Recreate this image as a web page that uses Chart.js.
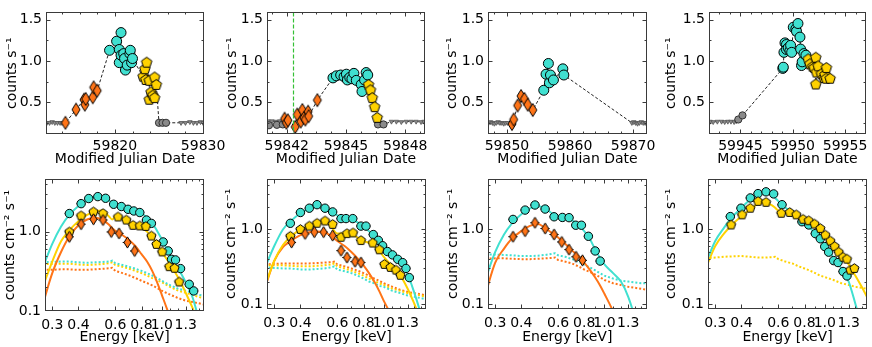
<!DOCTYPE html>
<html>
<head>
<meta charset="utf-8">
<script src="https://cdn.jsdelivr.net/npm/chart.js@4.4.1/dist/chart.umd.min.js"></script>
<style>
  html, body { margin: 0; padding: 0; background: #fff; }
  #fig { position: relative; width: 872px; height: 347px; overflow: hidden; }
  #fig canvas { position: absolute; left: 0; top: 0; }
</style>
</head>
<body>
<div id="fig">
  <canvas id="lc1" width="872" height="347"></canvas>
  <canvas id="lc2" width="872" height="347"></canvas>
  <canvas id="lc3" width="872" height="347"></canvas>
  <canvas id="lc4" width="872" height="347"></canvas>
  <canvas id="sp1" width="872" height="347"></canvas>
  <canvas id="sp2" width="872" height="347"></canvas>
  <canvas id="sp3" width="872" height="347"></canvas>
  <canvas id="sp4" width="872" height="347"></canvas>
</div>
<script>
// light curves: MJD vs count rate
const lcYRange = [0.114, 1.59];
const lcYTicks = [0.5, 1.0, 1.5];

const lc1Range = [59812.2, 59830.1];
const lc1Ticks = [59820, 59830];
const lc1GrayTriX = [59812.3, 59812.6, 59812.9, 59813.2, 59813.5, 59813.8, 59814.0, 59827.5, 59828.0, 59828.5, 59828.9, 59829.3, 59829.7, 59830.0];
const lc1GrayTriY = [0.25, 0.25, 0.26, 0.25, 0.25, 0.25, 0.25, 0.25, 0.25, 0.26, 0.25, 0.25, 0.26, 0.25];
const lc1GrayDotX = [59825.0, 59825.4, 59825.8];
const lc1GrayDotY = [0.25, 0.25, 0.25];
const lc1OrangeX = [59814.4, 59815.6, 59816.5, 59816.6, 59816.7, 59817.5, 59817.6, 59818.0];
const lc1OrangeY = [0.25, 0.41, 0.53, 0.47, 0.54, 0.56, 0.68, 0.64];
const lc1CyanX = [59819.4, 59820.2, 59820.5, 59820.5, 59820.7, 59820.7, 59821.0, 59821.1, 59821.2, 59821.4, 59821.7, 59821.75, 59821.9, 59822.0];
const lc1CyanY = [1.13, 1.24, 1.14, 0.98, 1.345, 1.07, 1.09, 1.03, 0.89, 0.95, 1.09, 1.13, 0.98, 1.03];
const lc1YellowX = [59823.2, 59823.4, 59823.5, 59823.6, 59823.9, 59823.9, 59824.1, 59824.3, 59824.5, 59824.5, 59824.7];
const lc1YellowY = [0.81, 0.90, 0.77, 0.98, 0.76, 0.53, 0.62, 0.58, 0.80, 0.55, 0.71];

const lc2Range = [59841.0, 59849.0];
const lc2Ticks = [59842, 59845, 59848];
const lc2Marker = [59842.3];
const lc2GrayTriX = [59841.05, 59841.25, 59841.45, 59841.65, 59841.85, 59847.3, 59847.55, 59847.8, 59848.05, 59848.3, 59848.55, 59848.8, 59848.95];
const lc2GrayTriY = [0.27, 0.27, 0.265, 0.27, 0.27, 0.265, 0.265, 0.26, 0.265, 0.265, 0.265, 0.26, 0.265];
const lc2GrayDotX = [59841.1, 59841.5, 59841.8, 59846.62, 59846.9];
const lc2GrayDotY = [0.22, 0.225, 0.23, 0.23, 0.23];
const lc2OrangeX = [59841.89, 59841.98, 59842.06, 59842.43, 59842.53, 59842.71, 59842.79, 59842.87, 59842.94, 59843.08, 59843.11, 59843.55];
const lc2OrangeY = [0.30, 0.25, 0.28, 0.20, 0.35, 0.265, 0.405, 0.31, 0.29, 0.385, 0.33, 0.525];
const lc2CyanX = [59844.34, 59844.51, 59844.73, 59844.90, 59845.02, 59845.07, 59845.19, 59845.30, 59845.40, 59845.52, 59845.77, 59845.81, 59845.94, 59846.02, 59846.10];
const lc2CyanY = [0.795, 0.82, 0.83, 0.81, 0.84, 0.77, 0.80, 0.785, 0.85, 0.765, 0.715, 0.63, 0.77, 0.86, 0.83];
const lc2YellowX = [59846.14, 59846.24, 59846.33, 59846.45, 59846.58];
const lc2YellowY = [0.71, 0.645, 0.55, 0.44, 0.31];

const lc3Range = [59847.0, 59872.2];
const lc3Ticks = [59850, 59860, 59870];
const lc3GrayTriX = [59847.1, 59847.4, 59847.7, 59848.0, 59848.3, 59848.6, 59848.9, 59849.2, 59849.5, 59849.8, 59850.1, 59869.8, 59870.1, 59870.4, 59870.7, 59871.0, 59871.3, 59871.6, 59871.9, 59872.1];
const lc3GrayTriY = [0.25, 0.26, 0.25, 0.24, 0.25, 0.26, 0.25, 0.25, 0.24, 0.25, 0.25, 0.25, 0.26, 0.25, 0.24, 0.25, 0.26, 0.25, 0.25, 0.25];
const lc3OrangeX = [59850.8, 59851.07, 59851.7, 59852.24, 59852.77, 59853.3, 59854.1];
const lc3OrangeY = [0.235, 0.29, 0.46, 0.575, 0.54, 0.47, 0.405];
const lc3CyanX = [59855.84, 59856.2, 59856.57, 59856.73, 59856.9, 59857.37, 59858.86, 59859.02];
const lc3CyanY = [0.645, 0.84, 0.97, 0.735, 0.83, 0.77, 0.905, 0.83];

const lc4Range = [59942.0, 59957.0];
const lc4Ticks = [59945, 59950, 59955];
const lc4GrayTriX = [59942.1, 59942.4, 59942.8, 59943.2, 59943.5, 59943.8, 59944.1, 59944.4, 59944.6];
const lc4GrayTriY = [0.265, 0.26, 0.265, 0.265, 0.26, 0.265, 0.265, 0.26, 0.27];
const lc4GrayDotX = [59944.8, 59945.2];
const lc4GrayDotY = [0.29, 0.34];
const lc4CyanX = [59949.05, 59949.1, 59949.16, 59949.26, 59949.4, 59949.4, 59949.57, 59949.73, 59949.8, 59949.9, 59950.05, 59950.3, 59950.36, 59950.5, 59950.69, 59950.75, 59950.84, 59950.9, 59951.07, 59951.26];
const lc4CyanY = [0.91, 0.925, 1.105, 1.22, 1.20, 1.14, 1.16, 1.125, 1.19, 1.105, 1.41, 1.39, 1.36, 1.455, 1.29, 1.145, 0.945, 0.99, 1.09, 1.07];
const lc4YellowX = [59951.48, 59951.64, 59951.9, 59952.05, 59952.2, 59952.2, 59952.27, 59952.43, 59952.74, 59952.97, 59953.07, 59953.2, 59953.22, 59953.57];
const lc4YellowY = [1.02, 0.96, 0.93, 0.915, 1.04, 0.715, 0.86, 0.935, 0.84, 0.795, 0.83, 0.785, 0.915, 0.785];

// spectra: energy (keV) vs counts cm^-2 s^-1
const specXRange = [0.277, 1.59];
const specXTicks = [0.3, 0.4, 0.6, 0.8, 1.0, 1.3];
const specYTicks = [0.1, 1.0];
const sp1YRange = [0.1, 4.6];
const spYRange = [0.0857, 4.83];
const modelE = [0.27, 0.3, 0.33, 0.36, 0.4, 0.44, 0.48, 0.52, 0.56, 0.58, 0.6, 0.65, 0.7, 0.75, 0.8, 0.85, 0.9, 0.95, 1.0, 1.1, 1.2, 1.3, 1.4, 1.5, 1.6];

const sp1CyanE = [0.362, 0.412, 0.448, 0.495, 0.539, 0.589, 0.641, 0.690, 0.735, 0.785, 0.845, 0.892, 1.015, 1.073, 1.113, 1.163, 1.229, 1.352, 1.42];
const sp1CyanY = [1.69, 2.25, 2.61, 2.76, 2.63, 2.21, 2.07, 1.91, 1.82, 1.74, 1.40, 1.27, 0.741, 0.571, 0.448, 0.44, 0.342, 0.217, 0.179];
const sp1YellowE = [0.362, 0.412, 0.472, 0.524, 0.618, 0.677, 0.729, 0.785, 0.839, 0.892, 0.943, 1.004, 1.085, 1.15, 1.21];
const sp1YellowY = [0.99, 1.58, 1.77, 1.69, 1.53, 1.40, 1.20, 1.18, 1.16, 0.88, 0.69, 0.555, 0.362, 0.345, 0.232];
const sp1OrangeE = [0.362, 0.412, 0.472, 0.524, 0.574, 0.625, 0.685, 0.742];
const sp1OrangeY = [0.86, 1.24, 1.43, 1.40, 0.99, 0.95, 0.73, 0.57];
const sp1CyanModel = [0.35, 0.7, 1.15, 1.6, 2.1, 2.5, 2.72, 2.7, 2.45, 2.3, 2.2, 2.05, 1.9, 1.8, 1.7, 1.5, 1.28, 1.02, 0.8, 0.5, 0.34, 0.23, 0.15, 0.08, 0.045];
const sp1YellowModel = [0.2, 0.42, 0.75, 1.02, 1.35, 1.62, 1.8, 1.85, 1.55, 1.42, 1.55, 1.45, 1.32, 1.22, 1.15, 1.0, 0.85, 0.7, 0.56, 0.38, 0.26, 0.17, 0.11, 0.07, 0.045];
const sp1OrangeModel = [0.12, 0.3, 0.55, 0.85, 1.2, 1.42, 1.5, 1.42, 1.22, 1.1, 1.02, 0.9, 0.78, 0.65, 0.52, 0.42, 0.32, 0.23, 0.16, 0.08, 0.04, 0.02, 0.01, 0.006, 0.004];
const sp1CyanBkg = [0.415, 0.415, 0.42, 0.42, 0.41, 0.405, 0.41, 0.415, 0.42, 0.43, 0.40, 0.38, 0.36, 0.34, 0.32, 0.30, 0.28, 0.26, 0.24, 0.21, 0.19, 0.18, 0.17, 0.16, 0.155];
const sp1YellowBkg = [0.39, 0.39, 0.395, 0.395, 0.385, 0.38, 0.385, 0.39, 0.40, 0.41, 0.38, 0.36, 0.34, 0.32, 0.30, 0.28, 0.26, 0.245, 0.23, 0.20, 0.18, 0.17, 0.16, 0.15, 0.145];
const sp1OrangeBkg = [0.33, 0.33, 0.335, 0.335, 0.33, 0.33, 0.335, 0.34, 0.345, 0.35, 0.32, 0.30, 0.28, 0.26, 0.24, 0.225, 0.21, 0.195, 0.18, 0.16, 0.145, 0.135, 0.13, 0.125, 0.12];

const sp2CyanE = [0.358, 0.400, 0.441, 0.480, 0.524, 0.570, 0.625, 0.660, 0.711, 0.778, 0.822, 0.891, 0.942, 0.987, 1.04, 1.10, 1.165, 1.23, 1.276, 1.324];
const sp2CyanY = [1.21, 1.69, 1.93, 2.15, 1.93, 1.72, 1.40, 1.40, 1.40, 1.11, 1.11, 0.855, 0.715, 0.605, 0.506, 0.456, 0.398, 0.359, 0.30, 0.226];
const sp2YellowE = [0.358, 0.400, 0.441, 0.480, 0.524, 0.570, 0.625, 0.667, 0.713, 0.778, 0.885, 0.952, 1.006, 1.075, 1.143, 1.20];
const sp2YellowY = [0.81, 1.0, 1.11, 1.21, 1.30, 1.17, 0.786, 0.88, 0.90, 0.71, 0.658, 0.534, 0.34, 0.31, 0.285, 0.243];
const sp2OrangeE = [0.363, 0.421, 0.466, 0.516, 0.570, 0.625, 0.667, 0.729, 0.778];
const sp2OrangeY = [0.67, 0.873, 0.92, 0.92, 0.83, 0.52, 0.42, 0.37, 0.36];
const sp2CyanModel = [0.3, 0.6, 1.0, 1.3, 1.65, 1.9, 2.05, 1.95, 1.75, 1.65, 1.55, 1.42, 1.35, 1.25, 1.1, 0.95, 0.82, 0.7, 0.6, 0.45, 0.36, 0.25, 0.14, 0.075, 0.04];
const sp2YellowModel = [0.17, 0.38, 0.62, 0.8, 1.0, 1.12, 1.22, 1.25, 1.12, 0.95, 0.88, 0.88, 0.88, 0.78, 0.7, 0.66, 0.6, 0.52, 0.43, 0.32, 0.24, 0.16, 0.1, 0.062, 0.035];
const sp2OrangeModel = [0.16, 0.38, 0.58, 0.7, 0.84, 0.92, 0.94, 0.92, 0.82, 0.76, 0.7, 0.6, 0.5, 0.41, 0.33, 0.26, 0.2, 0.15, 0.11, 0.065, 0.035, 0.02, 0.012, 0.008, 0.005];
const sp2CyanBkg = [0.31, 0.305, 0.30, 0.30, 0.29, 0.29, 0.295, 0.30, 0.31, 0.32, 0.29, 0.275, 0.26, 0.24, 0.22, 0.20, 0.19, 0.175, 0.17, 0.15, 0.14, 0.13, 0.125, 0.12, 0.115];
const sp2YellowBkg = [0.33, 0.33, 0.33, 0.325, 0.32, 0.32, 0.325, 0.33, 0.34, 0.35, 0.32, 0.30, 0.28, 0.26, 0.24, 0.22, 0.205, 0.19, 0.18, 0.16, 0.15, 0.14, 0.135, 0.13, 0.125];
const sp2OrangeBkg = [0.34, 0.345, 0.35, 0.35, 0.35, 0.35, 0.355, 0.36, 0.365, 0.37, 0.34, 0.32, 0.30, 0.28, 0.26, 0.24, 0.22, 0.205, 0.19, 0.17, 0.155, 0.145, 0.14, 0.135, 0.13];

const sp3CyanE = [0.365, 0.417, 0.465, 0.520, 0.574, 0.629, 0.677, 0.729, 0.776, 0.838, 0.903, 0.954];
const sp3CyanY = [1.365, 1.82, 2.13, 1.88, 1.48, 1.45, 1.44, 1.14, 1.14, 0.81, 0.515, 0.377];
const sp3OrangeE = [0.365, 0.417, 0.465, 0.520, 0.574, 0.625, 0.677, 0.731, 0.785];
const sp3OrangeY = [0.80, 0.95, 1.23, 1.03, 0.856, 0.68, 0.537, 0.43, 0.385];
const sp3CyanModel = [0.22, 0.5, 0.85, 1.2, 1.6, 1.92, 2.05, 1.92, 1.65, 1.55, 1.5, 1.42, 1.32, 1.15, 0.95, 0.75, 0.55, 0.42, 0.34, 0.26, 0.2, 0.125, 0.065, 0.03, 0.015];
const sp3OrangeModel = [0.14, 0.36, 0.55, 0.75, 0.95, 1.12, 1.18, 1.05, 0.9, 0.84, 0.78, 0.64, 0.52, 0.44, 0.36, 0.29, 0.23, 0.18, 0.137, 0.08, 0.045, 0.025, 0.014, 0.008, 0.005];
const sp3CyanBkg = [0.46, 0.46, 0.455, 0.45, 0.44, 0.44, 0.445, 0.455, 0.47, 0.48, 0.45, 0.43, 0.40, 0.37, 0.34, 0.31, 0.285, 0.26, 0.24, 0.22, 0.205, 0.20, 0.195, 0.19, 0.19];
const sp3OrangeBkg = [0.405, 0.41, 0.41, 0.405, 0.40, 0.40, 0.405, 0.41, 0.415, 0.42, 0.39, 0.37, 0.35, 0.32, 0.29, 0.27, 0.25, 0.23, 0.21, 0.19, 0.18, 0.17, 0.165, 0.16, 0.155];

const sp4CyanE = [0.354, 0.398, 0.441, 0.480, 0.524, 0.570, 0.625, 0.778, 0.838, 0.901, 0.952, 0.999, 1.043, 1.102, 1.156, 1.222, 1.276];
const sp4CyanY = [1.49, 1.93, 2.65, 3.03, 3.20, 3.0, 2.15, 1.27, 1.15, 0.88, 0.75, 0.59, 0.496, 0.382, 0.36, 0.273, 0.238];
const sp4YellowE = [0.357, 0.403, 0.441, 0.480, 0.524, 0.620, 0.680, 0.731, 0.787, 0.838, 0.894, 0.952, 1.006, 1.063, 1.115, 1.165, 1.222, 1.276, 1.324, 1.384];
const sp4YellowY = [1.15, 1.57, 1.93, 2.38, 2.31, 1.65, 1.69, 1.57, 1.37, 1.31, 1.18, 1.03, 0.84, 0.70, 0.59, 0.496, 0.424, 0.40, 0.285, 0.30];
const sp4CyanModel = [0.35, 0.7, 1.05, 1.45, 1.95, 2.5, 2.95, 3.15, 2.9, 2.65, 2.4, 1.95, 1.65, 1.42, 1.25, 1.05, 0.88, 0.74, 0.6, 0.42, 0.3, 0.2, 0.1, 0.05, 0.025];
const sp4YellowModel = [0.3, 0.6, 0.88, 1.15, 1.5, 1.85, 2.2, 2.3, 2.1, 1.95, 1.8, 1.68, 1.6, 1.5, 1.38, 1.25, 1.12, 1.0, 0.86, 0.65, 0.46, 0.34, 0.24, 0.17, 0.12];
const sp4YellowBkg = [0.41, 0.42, 0.43, 0.435, 0.44, 0.43, 0.42, 0.42, 0.425, 0.43, 0.40, 0.37, 0.35, 0.32, 0.30, 0.28, 0.26, 0.24, 0.23, 0.21, 0.19, 0.18, 0.17, 0.165, 0.16];

// ---------------------------------------------------------------
const FS = 14;
Chart.defaults.font.family = '"DejaVu Sans", sans-serif';
Chart.defaults.font.size = FS;
Chart.defaults.color = '#000';

const W = 872, H = 347, LH = FS * 1.2;
const CYAN = '#40e0d0', YELLOW = '#ffd200', ORANGE = '#ff7417';

function marker(kind, r, fill) {
  const s = Math.ceil(r * 2 + 3);
  const c = document.createElement('canvas');
  c.width = s; c.height = s;
  const g = c.getContext('2d');
  const cx = s / 2, cy = s / 2;
  g.beginPath();
  if (kind === 'pentagon') {
    for (let i = 0; i < 5; i++) {
      const a = -Math.PI / 2 + i * 2 * Math.PI / 5;
      g.lineTo(cx + r * Math.cos(a), cy + r * Math.sin(a));
    }
  } else {
    g.moveTo(cx, cy - r);
    g.lineTo(cx + r * 0.62, cy);
    g.lineTo(cx, cy + r);
    g.lineTo(cx - r * 0.62, cy);
  }
  g.closePath();
  g.fillStyle = fill;
  g.fill();
  g.lineWidth = 1;
  g.strokeStyle = '#000';
  g.stroke();
  return c;
}

const series = (xs, ys) => xs.map((x, i) => ({ x, y: ys[i] }));

// error bars drawn under the markers
const errorBars = {
  id: 'errorBars',
  beforeDatasetsDraw(chart) {
    const { ctx, chartArea: a, scales: { x, y } } = chart;
    ctx.save();
    ctx.beginPath();
    ctx.rect(a.left, a.top, a.right - a.left, a.bottom - a.top);
    ctx.clip();
    chart.data.datasets.forEach(ds => {
      if (!ds.xErr && !ds.yErr) return;
      ctx.strokeStyle = ds.errColor || '#000';
      ctx.lineWidth = 1;
      ds.data.forEach(p => {
        const px = x.getPixelForValue(p.x), py = y.getPixelForValue(p.y);
        ctx.beginPath();
        if (ds.xErr) {
          ctx.moveTo(x.getPixelForValue(p.x * (1 - ds.xErr)), py);
          ctx.lineTo(x.getPixelForValue(p.x * (1 + ds.xErr)), py);
        }
        if (ds.yErr) {
          const lo = ds.logErr ? p.y * (1 - ds.yErr) : p.y - ds.yErr;
          const hi = ds.logErr ? p.y * (1 + ds.yErr) : p.y + ds.yErr;
          ctx.moveTo(px, y.getPixelForValue(lo));
          ctx.lineTo(px, y.getPixelForValue(hi));
        }
        ctx.stroke();
      });
    });
    ctx.restore();
  }
};

// matplotlib-like box with inward ticks on every side
const axesFrame = {
  id: 'axesFrame',
  afterDatasetsDraw(chart, args, o) {
    const { ctx, chartArea: a, scales: { x, y } } = chart;
    const L = Math.round(a.left) + 0.5, R = Math.round(a.right) - 0.5;
    const T = Math.round(a.top) + 0.5, B = Math.round(a.bottom) - 0.5;
    const seg = (x1, y1, x2, y2) => { ctx.beginPath(); ctx.moveTo(x1, y1); ctx.lineTo(x2, y2); ctx.stroke(); };
    ctx.save();
    (o.vLines || []).forEach(v => {
      const px = Math.round(x.getPixelForValue(v)) + 0.5;
      ctx.save();
      ctx.strokeStyle = '#35c035';
      ctx.lineWidth = 1.2;
      ctx.setLineDash([4, 2]);
      seg(px, T, px, B);
      ctx.restore();
    });
    ctx.strokeStyle = '#3a3a3a';
    ctx.lineWidth = 1;
    ctx.strokeRect(L, T, R - L, B - T);
    const xt = (vals, len) => vals.forEach(v => {
      const px = Math.round(x.getPixelForValue(v)) + 0.5;
      if (px < L || px > R) return;
      seg(px, B, px, B - len); seg(px, T, px, T + len);
    });
    const yt = (vals, len) => vals.forEach(v => {
      const py = Math.round(y.getPixelForValue(v)) + 0.5;
      if (py < T || py > B) return;
      seg(L, py, L + len, py); seg(R, py, R - len, py);
    });
    xt(o.xMajor || [], 4); xt(o.xMinor || [], 2);
    yt(o.yMajor || [], 4); yt(o.yMinor || [], 2);
    ctx.restore();
  }
};

function layoutFor(area, yTitleX, xTitleY) {
  const padLeft = yTitleX - LH / 2;
  const xH = xTitleY + LH / 2 - area.b;
  return {
    padding: { left: padLeft, right: W - area.r, top: area.t, bottom: H - area.b - xH },
    yWidth: area.l - padLeft,
    xHeight: xH
  };
}

function axis(type, pos, range, tickVals, fmt, title, size, pad) {
  return {
    type, position: pos, min: range[0], max: range[1],
    grid: { display: false, drawTicks: false },
    border: { display: false },
    ticks: { autoSkip: false, maxRotation: 0, minRotation: 0, padding: pad, color: '#000', callback: fmt },
    afterBuildTicks: s => { s.ticks = tickVals.map(v => ({ value: v })); },
    afterFit: s => { if (pos === 'left') s.width = size; else s.height = size; },
    title: { display: true, text: title, color: '#000', padding: 0, font: { size: FS } }
  };
}

function makeChart(id, datasets, lay, xAxis, yAxis, frame) {
  return new Chart(document.getElementById(id), {
    type: 'scatter',
    data: { datasets },
    options: {
      responsive: false,
      animation: false,
      events: [],
      layout: { padding: lay.padding, autoPadding: false },
      plugins: { legend: { display: false }, tooltip: { enabled: false }, axesFrame: frame },
      scales: { x: xAxis, y: yAxis }
    },
    plugins: [errorBars, axesFrame]
  });
}

const fmtInt = v => String(v);
const fmt1 = v => Number(v).toFixed(1);

function lightCurve(id, p) {
  const lay = layoutFor(p.area, p.yTitleX, 159);
  const groups = [[p.triX, p.triY], [p.dotX, p.dotY], [p.orangeX, p.orangeY], [p.cyanX, p.cyanY], [p.yellowX, p.yellowY]];
  const all = [];
  groups.forEach(([xs, ys]) => { if (xs) all.push(...series(xs, ys)); });
  all.sort((a, b) => a.x - b.x);
  const ds = [];
  if (p.yellowX) ds.push({ data: series(p.yellowX, p.yellowY), pointStyle: marker('pentagon', 5.5, YELLOW), pointRadius: 5, yErr: 0.035, errColor: YELLOW, order: 1 });
  if (p.cyanX) ds.push({ data: series(p.cyanX, p.cyanY), pointStyle: 'circle', pointRadius: 5, backgroundColor: CYAN, borderColor: '#000', borderWidth: 1, yErr: 0.04, errColor: CYAN, order: 2 });
  if (p.orangeX) ds.push({ data: series(p.orangeX, p.orangeY), pointStyle: marker('diamond', 6.5, ORANGE), pointRadius: 5, yErr: 0.03, errColor: ORANGE, order: 3 });
  if (p.dotX) ds.push({ data: series(p.dotX, p.dotY), pointStyle: 'circle', pointRadius: 3.6, backgroundColor: '#8a8a8a', borderColor: '#333', borderWidth: 1, order: 4 });
  ds.push({ data: series(p.triX, p.triY), pointStyle: 'triangle', rotation: 180, pointRadius: 2.6, backgroundColor: '#8c8c8c', borderColor: '#555', borderWidth: 0.8, order: 5 });
  ds.push({ data: all, showLine: true, borderColor: '#222', borderWidth: 1, borderDash: [3, 2], pointRadius: 0, order: 10 });
  makeChart(id, ds, lay,
    axis('linear', 'bottom', p.range, p.ticks, fmtInt, 'Modified Julian Date', lay.xHeight, 4),
    axis('linear', 'left', lcYRange, lcYTicks, fmt1, 'counts s⁻¹', lay.yWidth, 4),
    { xMajor: p.ticks, xMinor: p.minor, yMajor: lcYTicks, yMinor: [0.25, 0.75, 1.25], vLines: p.vLines });
}

function spectrum(id, p) {
  const lay = layoutFor(p.area, p.yTitleX, 337);
  const ds = [];
  const pointSet = {
    cyan: { pointStyle: 'circle', pointRadius: 4.2, backgroundColor: CYAN, borderColor: '#000', borderWidth: 1 },
    yellow: { pointStyle: marker('pentagon', 4.8, YELLOW), pointRadius: 4 },
    orange: { pointStyle: marker('diamond', 5.6, ORANGE), pointRadius: 4 }
  };
  const lineColor = { cyan: CYAN, yellow: YELLOW, orange: ORANGE };
  const orderPts = { yellow: 1, cyan: 2, orange: 0 };
  p.points.forEach(([key, E, Y]) => ds.push(Object.assign({ data: series(E, Y), xErr: 0.05, yErr: 0.07, logErr: true, order: orderPts[key] }, pointSet[key])));
  p.models.forEach(([key, M]) => ds.push({ data: series(modelE, M), showLine: true, borderColor: lineColor[key], borderWidth: 2, pointRadius: 0, cubicInterpolationMode: 'monotone', order: 5 }));
  p.bkgs.forEach(([key, M]) => ds.push({ data: series(modelE, M), showLine: true, borderColor: lineColor[key], borderWidth: 2, borderDash: [2, 2], pointRadius: 0, order: 6 }));
  makeChart(id, ds, lay,
    axis('logarithmic', 'bottom', specXRange, specXTicks, fmt1, 'Energy [keV]', lay.xHeight, 6),
    axis('logarithmic', 'left', p.yRange, specYTicks, fmt1, 'counts cm⁻² s⁻¹', lay.yWidth, 4),
    { xMajor: specXTicks, xMinor: [0.5, 0.7, 0.9, 1.1, 1.2, 1.4, 1.5], yMajor: specYTicks, yMinor: [0.2, 0.3, 0.4, 0.5, 0.6, 0.7, 0.8, 0.9, 2, 3, 4] });
}

lightCurve('lc1', { area: { l: 46, r: 204, t: 4, b: 134 }, yTitleX: 12.5, range: lc1Range, ticks: lc1Ticks,
  minor: [59814, 59816, 59818, 59822, 59824, 59826, 59828],
  triX: lc1GrayTriX, triY: lc1GrayTriY, dotX: lc1GrayDotX, dotY: lc1GrayDotY,
  orangeX: lc1OrangeX, orangeY: lc1OrangeY, cyanX: lc1CyanX, cyanY: lc1CyanY, yellowX: lc1YellowX, yellowY: lc1YellowY });

lightCurve('lc2', { area: { l: 267, r: 425, t: 4, b: 134 }, yTitleX: 232, range: lc2Range, ticks: lc2Ticks,
  minor: [59841.25, 59842.75, 59843.5, 59844.25, 59845.75, 59846.5, 59847.25, 59848.75], vLines: lc2Marker,
  triX: lc2GrayTriX, triY: lc2GrayTriY, dotX: lc2GrayDotX, dotY: lc2GrayDotY,
  orangeX: lc2OrangeX, orangeY: lc2OrangeY, cyanX: lc2CyanX, cyanY: lc2CyanY, yellowX: lc2YellowX, yellowY: lc2YellowY });

lightCurve('lc3', { area: { l: 488, r: 647, t: 4, b: 134 }, yTitleX: 452, range: lc3Range, ticks: lc3Ticks,
  minor: [59848, 59852, 59854, 59856, 59858, 59862, 59864, 59866, 59868, 59872],
  triX: lc3GrayTriX, triY: lc3GrayTriY,
  orangeX: lc3OrangeX, orangeY: lc3OrangeY, cyanX: lc3CyanX, cyanY: lc3CyanY });

lightCurve('lc4', { area: { l: 709, r: 867, t: 4, b: 134 }, yTitleX: 671.5, range: lc4Range, ticks: lc4Ticks,
  minor: [59943, 59944, 59946, 59947, 59948, 59949, 59951, 59952, 59953, 59954, 59956],
  triX: lc4GrayTriX, triY: lc4GrayTriY, dotX: lc4GrayDotX, dotY: lc4GrayDotY,
  cyanX: lc4CyanX, cyanY: lc4CyanY, yellowX: lc4YellowX, yellowY: lc4YellowY });

spectrum('sp1', { area: { l: 45, r: 204, t: 179, b: 311 }, yTitleX: 10, yRange: sp1YRange,
  points: [['cyan', sp1CyanE, sp1CyanY], ['yellow', sp1YellowE, sp1YellowY], ['orange', sp1OrangeE, sp1OrangeY]],
  models: [['cyan', sp1CyanModel], ['yellow', sp1YellowModel], ['orange', sp1OrangeModel]],
  bkgs: [['cyan', sp1CyanBkg], ['yellow', sp1YellowBkg], ['orange', sp1OrangeBkg]] });

spectrum('sp2', { area: { l: 267, r: 426, t: 178.5, b: 309 }, yTitleX: 231, yRange: spYRange,
  points: [['cyan', sp2CyanE, sp2CyanY], ['yellow', sp2YellowE, sp2YellowY], ['orange', sp2OrangeE, sp2OrangeY]],
  models: [['cyan', sp2CyanModel], ['yellow', sp2YellowModel], ['orange', sp2OrangeModel]],
  bkgs: [['cyan', sp2CyanBkg], ['yellow', sp2YellowBkg], ['orange', sp2OrangeBkg]] });

spectrum('sp3', { area: { l: 488, r: 646.5, t: 178.5, b: 309 }, yTitleX: 453, yRange: spYRange,
  points: [['cyan', sp3CyanE, sp3CyanY], ['orange', sp3OrangeE, sp3OrangeY]],
  models: [['cyan', sp3CyanModel], ['orange', sp3OrangeModel]],
  bkgs: [['cyan', sp3CyanBkg], ['orange', sp3OrangeBkg]] });

spectrum('sp4', { area: { l: 708, r: 867, t: 178.5, b: 309 }, yTitleX: 671.5, yRange: spYRange,
  points: [['cyan', sp4CyanE, sp4CyanY], ['yellow', sp4YellowE, sp4YellowY]],
  models: [['cyan', sp4CyanModel], ['yellow', sp4YellowModel]],
  bkgs: [['yellow', sp4YellowBkg]] });
</script>
</body>
</html>
